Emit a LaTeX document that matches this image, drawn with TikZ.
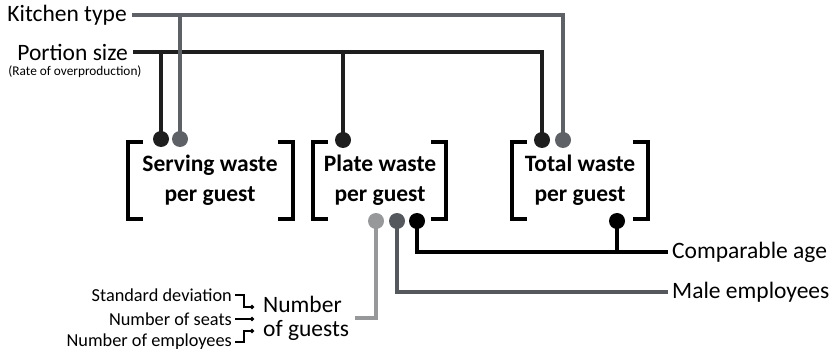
\documentclass[tikz,border=0pt]{standalone}
\usepackage{fontspec}
\setmainfont{Carlito}
\usetikzlibrary{arrows.meta}
\definecolor{cblk}{HTML}{1E1E1E}
\definecolor{cgry}{HTML}{5E6166}
\definecolor{cdgr}{HTML}{55585D}
\definecolor{clgr}{HTML}{979899}
\tikzset{
  conn/.style={line width=3.2pt},
  brk/.style={line width=3.2pt, black},
  dot/.style={circle, inner sep=0pt, minimum size=16pt},
  lbl/.style={font=\fontsize{23.5}{24}\selectfont, inner sep=0pt},
  box/.style={font=\fontsize{23.5}{30}\selectfont\bfseries, align=center, inner sep=0pt},
  small/.style={font=\fontsize{18.3}{18}\selectfont, inner sep=0pt, anchor=east},
  thin/.style={line width=1.5pt, -{Circle[length=4pt]}},
}
\begin{document}
\begin{tikzpicture}[x=1pt,y=-1pt]
\useasboundingbox (0,0) rectangle (837,355);
% left labels
\node[lbl, anchor=east] (kt) at (127,15) {Kitchen type};
\node[lbl, anchor=east] (ps) at (128,52) {Portion size};
\node[font=\fontsize{13.3}{14}\selectfont, inner sep=0pt] (rate) at (75,72) {(Rate of overproduction)};
% boxes text
\node[box] (sw) at (210,180) {Serving waste\\per guest};
\node[box] (pw) at (380,180) {Plate waste\\per guest};
\node[box] (tw) at (580,180) {Total waste\\per guest};
% brackets
\draw[brk] (143,142) -- (128,142) -- (128,219) -- (143,219);
\draw[brk] (278,142) -- (293,142) -- (293,219) -- (278,219);
\draw[brk] (328,142) -- (313,142) -- (313,219) -- (328,219);
\draw[brk] (431,142) -- (446,142) -- (446,219) -- (431,219);
\draw[brk] (527,142) -- (512,142) -- (512,219) -- (527,219);
\draw[brk] (633,142) -- (648,142) -- (648,219) -- (633,219);
% top dots
\node[dot, fill=cblk] (s1) at (161,139) {};
\node[dot, fill=cgry] (s2) at (180,139) {};
\node[dot, fill=cblk] (p1) at (343,140) {};
\node[dot, fill=cblk] (t1) at (542,140) {};
\node[dot, fill=cgry] (t2) at (563,140) {};
% bottom dots
\node[dot, fill=clgr] (pb1) at (376,221) {};
\node[dot, fill=cdgr] (pb2) at (397,221) {};
\node[dot, fill=black] (pb3) at (417,221) {};
\node[dot, fill=black] (tb) at (617,221) {};
% right labels
\node[lbl, anchor=west] (ca) at (672,252) {Comparable age};
\node[lbl, anchor=west] (me) at (672,292) {Male employees};
% number of guests
\node[lbl, align=left, anchor=west, font=\fontsize{23.5}{24}\selectfont] (ng) at (263,318) {Number\\of guests};
\node[small] (sd) at (232,295) {Standard deviation};
\node[small] (ns) at (232,319) {Number of seats};
\node[small] (ne) at (232,342) {Number of employees};
% connectors top
\draw[conn, cgry] (kt.east |- 0,15) ++(5,0) coordinate (kta) -- (563,15) -- (t2.center);
\draw[conn, cgry] (s2.center) -- (s2.center |- kta);
\draw[conn, cblk] (ps.east |- 0,52) ++(5,0) coordinate (psa) -- (542,52) -- (t1.center);
\draw[conn, cblk] (s1.center) -- (s1.center |- psa);
\draw[conn, cblk] (p1.center) -- (p1.center |- psa);
% kitchen vertical over portion (redraw crossing)
\draw[conn, cgry] (180,48) -- (180,56);
% bottom connectors
\draw[conn, black] (pb3.center) |- ([xshift=-4pt]ca.west);
\draw[conn, black] (tb.center) -- (617,252);
\draw[conn, cdgr] (pb2.center) |- ([xshift=-4pt]me.west);
\draw[conn, clgr] (pb1.center) |- (355,318);
% small arrows
\draw[thin] (sd.east) ++(3,0) -| (244,307) -- (254,307);
\draw[thin] (ns.east) ++(3,0) -- (254,319);
\draw[thin] (ne.east) ++(3,0) -| (244,331) -- (254,331);
\end{tikzpicture}
\end{document}
